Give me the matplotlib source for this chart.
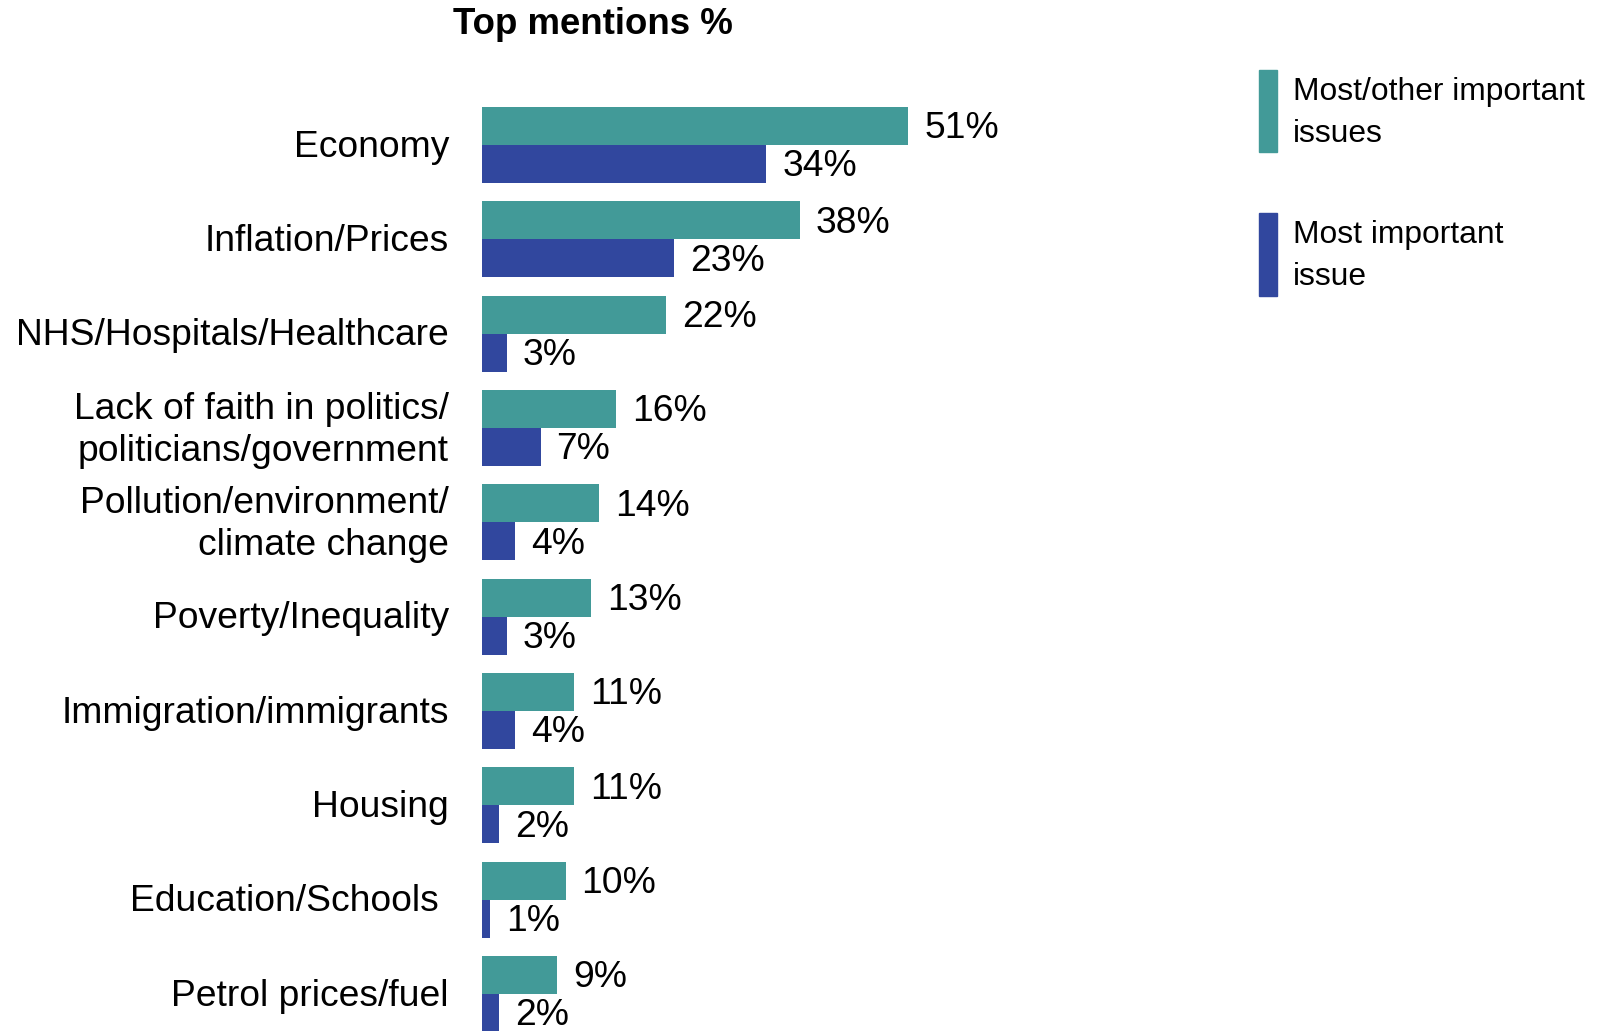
"""Top mentions bar chart: most/other important issues vs most important issue."""

import matplotlib
matplotlib.use("Agg")
import matplotlib.pyplot as plt
from matplotlib.patches import Rectangle

categories = [
    "Economy",
    "Inflation/Prices",
    "NHS/Hospitals/Healthcare",
    "Lack of faith in politics/\npoliticians/government",
    "Pollution/environment/\nclimate change",
    "Poverty/Inequality",
    "Immigration/immigrants",
    "Housing",
    "Education/Schools ",
    "Petrol prices/fuel",
]
most_other = [51, 38, 22, 16, 14, 13, 11, 11, 10, 9]
most = [34, 23, 3, 7, 4, 3, 4, 2, 1, 2]
series_names = ["Most/other important\nissues", "Most important\nissue"]

TEAL = "#429a98"
BLUE = "#31479e"

plt.rcParams["font.family"] = ["Liberation Sans", "DejaVu Sans"]

W, H = 1616, 1031
fig = plt.figure(figsize=(W / 100, H / 100), dpi=100)

# axes placed in pixel terms: left edge of bars at x=482, ~8.36 px per percent
left_px = 482
px_per_pct = 8.36
xmax = 86
ax = fig.add_axes([left_px / W, 0, xmax * px_per_pct / W, 1])

pitch = 94.35
first_row = 145
ax.set_ylim((H - first_row) / pitch, -first_row / pitch)
ax.set_xlim(0, xmax)

pos = list(range(len(categories)))
bh = 38 / pitch
ax.barh([p - bh / 2 for p in pos], most_other, height=bh, color=TEAL)
ax.barh([p + bh / 2 for p in pos], most, height=bh, color=BLUE)

fs = 26.8
for p, a, b in zip(pos, most_other, most):
    ax.annotate(f"{a}%", xy=(a, p - bh / 2), xytext=(11.5, -2), textcoords="offset points",
                ha="left", va="center", fontsize=fs)
    ax.annotate(f"{b}%", xy=(b, p + bh / 2), xytext=(11.5, -2), textcoords="offset points",
                ha="left", va="center", fontsize=fs)

for p, name in zip(pos, categories):
    ax.annotate(name, xy=(0, p), xytext=(-23.8, -1.5), textcoords="offset points",
                ha="right", va="center", fontsize=fs, linespacing=1.25,
                multialignment="right")

ax.axis("off")

fig.text(593 / W, 1 - 25 / H, "Top mentions %", ha="center", va="center",
         fontsize=26.4, fontweight="bold")

# legend drawn by hand to match the stacked two-line layout
for (top, bottom), color, label in zip([(70, 152), (213, 296)], [TEAL, BLUE], series_names):
    fig.patches.append(Rectangle((1259 / W, 1 - bottom / H), 18 / W, (bottom - top) / H,
                                 transform=fig.transFigure, color=color))
    fig.text(1293 / W, 1 - (top + 43) / H, label, ha="left", va="center",
             fontsize=22.9, linespacing=1.55)

fig.savefig("out.png", dpi=100)
